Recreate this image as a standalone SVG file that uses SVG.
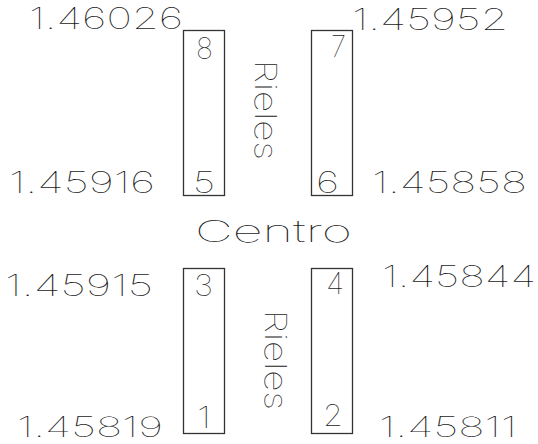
<svg xmlns="http://www.w3.org/2000/svg" width="538" height="444" viewBox="0 0 538 444">
<style>
.bg{fill:#ffffff}
.box{fill:none;stroke:#333;stroke-width:1.3}
.t{font-family:Inter,"Liberation Sans",Arial,sans-serif;font-size:30px;fill:#1a1a1a;font-weight:100}
.b{font-size:28px}
.d{font-family:Inter,"Liberation Sans",Arial,sans-serif;font-size:30px;fill:#1a1a1a;font-weight:100}
</style>
<rect class="bg" x="0" y="0" width="538" height="444"/>
<g id="connectors"></g>
<g id="rail-8-5">
<rect class="box" x="183.5" y="30.5" width="41" height="165"/>
<text class="d" x="196" y="59" textLength="17" lengthAdjust="spacingAndGlyphs">8</text>
<text class="d" x="193" y="193" textLength="22" lengthAdjust="spacingAndGlyphs">5</text>
</g>
<g id="rail-7-6">
<rect class="box" x="311.5" y="30.5" width="41" height="165"/>
<text class="d" x="331" y="57" textLength="15" lengthAdjust="spacingAndGlyphs">7</text>
<text class="d" x="316" y="193" textLength="23" lengthAdjust="spacingAndGlyphs">6</text>
</g>
<g id="rail-3-1">
<rect class="box" x="183.5" y="268.5" width="41" height="165"/>
<text class="d" x="194" y="296" textLength="19" lengthAdjust="spacingAndGlyphs">3</text>
<text class="d" x="197" y="428" textLength="14" lengthAdjust="spacingAndGlyphs">1</text>
</g>
<g id="rail-4-2">
<rect class="box" x="311.5" y="268.5" width="41" height="165"/>
<text class="d" x="326" y="294" textLength="18" lengthAdjust="spacingAndGlyphs">4</text>
<text class="d" x="323" y="426" textLength="20" lengthAdjust="spacingAndGlyphs">2</text>
</g>
<g id="values">
<text class="t" x="29" y="29" textLength="154" lengthAdjust="spacingAndGlyphs">1.46026</text>
<text class="t" x="352" y="30" textLength="156" lengthAdjust="spacingAndGlyphs">1.45952</text>
<text class="t" x="9" y="193" textLength="146" lengthAdjust="spacingAndGlyphs">1.45916</text>
<text class="t" x="372" y="193" textLength="155" lengthAdjust="spacingAndGlyphs">1.45858</text>
<text class="t" x="5" y="296" textLength="148" lengthAdjust="spacingAndGlyphs">1.45915</text>
<text class="t" x="382" y="287" textLength="154" lengthAdjust="spacingAndGlyphs">1.45844</text>
<text class="t b" x="17" y="437" textLength="146" lengthAdjust="spacingAndGlyphs">1.45819</text>
<text class="t b" x="379" y="437" textLength="138" lengthAdjust="spacingAndGlyphs">1.45811</text>
</g>
<g id="labels">
<text class="t" x="195" y="242" textLength="157" lengthAdjust="spacingAndGlyphs">Centro</text>
<text class="t" transform="translate(255,60) rotate(90)" x="0" y="0" textLength="100" lengthAdjust="spacingAndGlyphs">Rieles</text>
<text class="t" transform="translate(265,310) rotate(90)" x="0" y="0" textLength="100" lengthAdjust="spacingAndGlyphs">Rieles</text>
</g>
</svg>
